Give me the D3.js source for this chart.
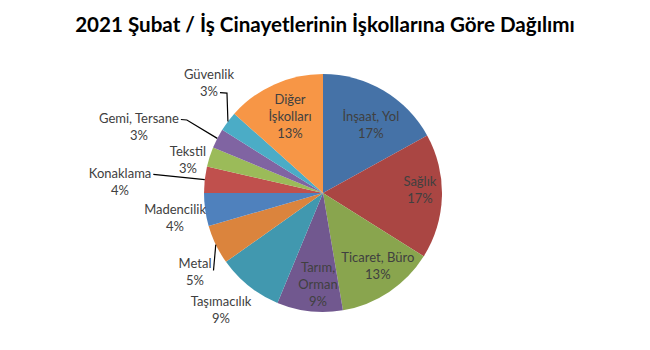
<!DOCTYPE html>
<html>
<head>
<meta charset="utf-8">
<script src="https://cdn.jsdelivr.net/npm/d3@7"></script>
<style>
  html, body { margin: 0; padding: 0; background: #fff; }
  svg { display: block; }
</style>
</head>
<body>
<script>
// ---- data ----
const categories = ["İnşaat, Yol", "Sağlık", "Ticaret, Büro", "Tarım, Orman", "Taşımacılık",
  "Metal", "Madencilik", "Konaklama", "Tekstil", "Gemi, Tersane", "Güvenlik", "Diğer İşkolları"];
const values = [19, 19, 15, 10, 10, 6, 5, 4, 3, 3, 3, 15];
const labelLines = [["İnşaat, Yol"], ["Sağlık"], ["Ticaret, Büro"], ["Tarım,", "Orman"], ["Taşımacılık"],
  ["Metal"], ["Madencilik"], ["Konaklama"], ["Tekstil"], ["Gemi, Tersane"], ["Güvenlik"], ["Diğer", "İşkolları"]];
const title = "2021 Şubat / İş Cinayetlerinin İşkollarına Göre Dağılımı";

// ---- layout / style ----
const W = 650, H = 350;
const cx = 323, cy = 193, R = 119;
const colors = ["#4572A7", "#AA4643", "#89A54E", "#71588F", "#4198AF", "#DB843D",
  "#4F81BD", "#C0504D", "#9BBB59", "#8064A2", "#4BACC6", "#F79646"];
// label placement: [radius factor, angle shift in degrees, leader line: null | {line, hseg}]
const labelLayout = [
  [0.70, 4.5, null], [0.815, -3.4, null], [0.77, -3, null], [0.766, -3.3, null],
  [1.304, 2.5, null], [1.264, -6, {line: 0, hseg: 0, bottom: true}], [1.261, -1.6, null],
  [1.708, -3.3, {line: 0, hseg: 5}], [1.168, -4, null], [1.643, -7.6, {line: 0, hseg: 6}],
  [1.331, 7, {line: 1, hseg: 7}], [0.704, 0.9, null]
];
const fontFam = "Lato, 'Open Sans', sans-serif";
const fs = 13, lh = 17;

const svg = d3.select("body").append("svg").attr("width", W).attr("height", H);

// title
const t = svg.append("text").attr("x", 325).attr("y", 32).attr("text-anchor", "middle")
  .attr("font-family", fontFam).attr("font-weight", "bold").attr("font-size", 18)
  .attr("fill", "#000").text(title);
const tw = t.node().getComputedTextLength();
t.attr("font-size", 18 * 500 / tw);

const total = d3.sum(values);
const pie = d3.pie().sort(null).value(d => d)(values);
const arc = d3.arc().innerRadius(0).outerRadius(R);
const g = svg.append("g").attr("transform", `translate(${cx},${cy})`);

g.selectAll("path.slice").data(pie).join("path").attr("class", "slice")
  .attr("d", arc).attr("fill", (d, i) => colors[i]);

const pct = d3.format(".0%");
const labG = svg.append("g");
pie.forEach((d, i) => {
  const [rf, shift, leader] = labelLayout[i];
  const mid = (d.startAngle + d.endAngle) / 2;
  const a = mid + shift * Math.PI / 180;
  const x = cx + Math.sin(a) * R * rf;
  const y = cy - Math.cos(a) * R * rf;
  const lines = labelLines[i].concat([pct(values[i] / total)]);
  const n = lines.length;
  const y0 = y - (n - 1) * lh / 2;
  const txt = labG.append("text").attr("font-family", fontFam).attr("font-size", fs)
    .attr("fill", "#404040").attr("text-anchor", "middle");
  const spans = lines.map((s, k) => txt.append("tspan").attr("x", x).attr("y", y0 + k * lh)
    .attr("dy", "0.35em").text(s));
  if (leader) {
    const sw = spans[leader.line].node().getComputedTextLength();
    const ly = y0 + leader.line * lh + (leader.bottom ? 7 : 1);
    const sx = x + sw / 2 + 2;
    const ex = cx + Math.sin(mid) * R, ey = cy - Math.cos(mid) * R;
    const pts = leader.hseg ? [[sx, ly], [sx + leader.hseg, ly + 0.5], [ex, ey]] : [[sx, ly], [ex, ey]];
    labG.append("path").attr("d", d3.line()(pts)).attr("fill", "none")
      .attr("stroke", "#000").attr("stroke-width", 1.2);
  }
});
</script>
</body>
</html>
